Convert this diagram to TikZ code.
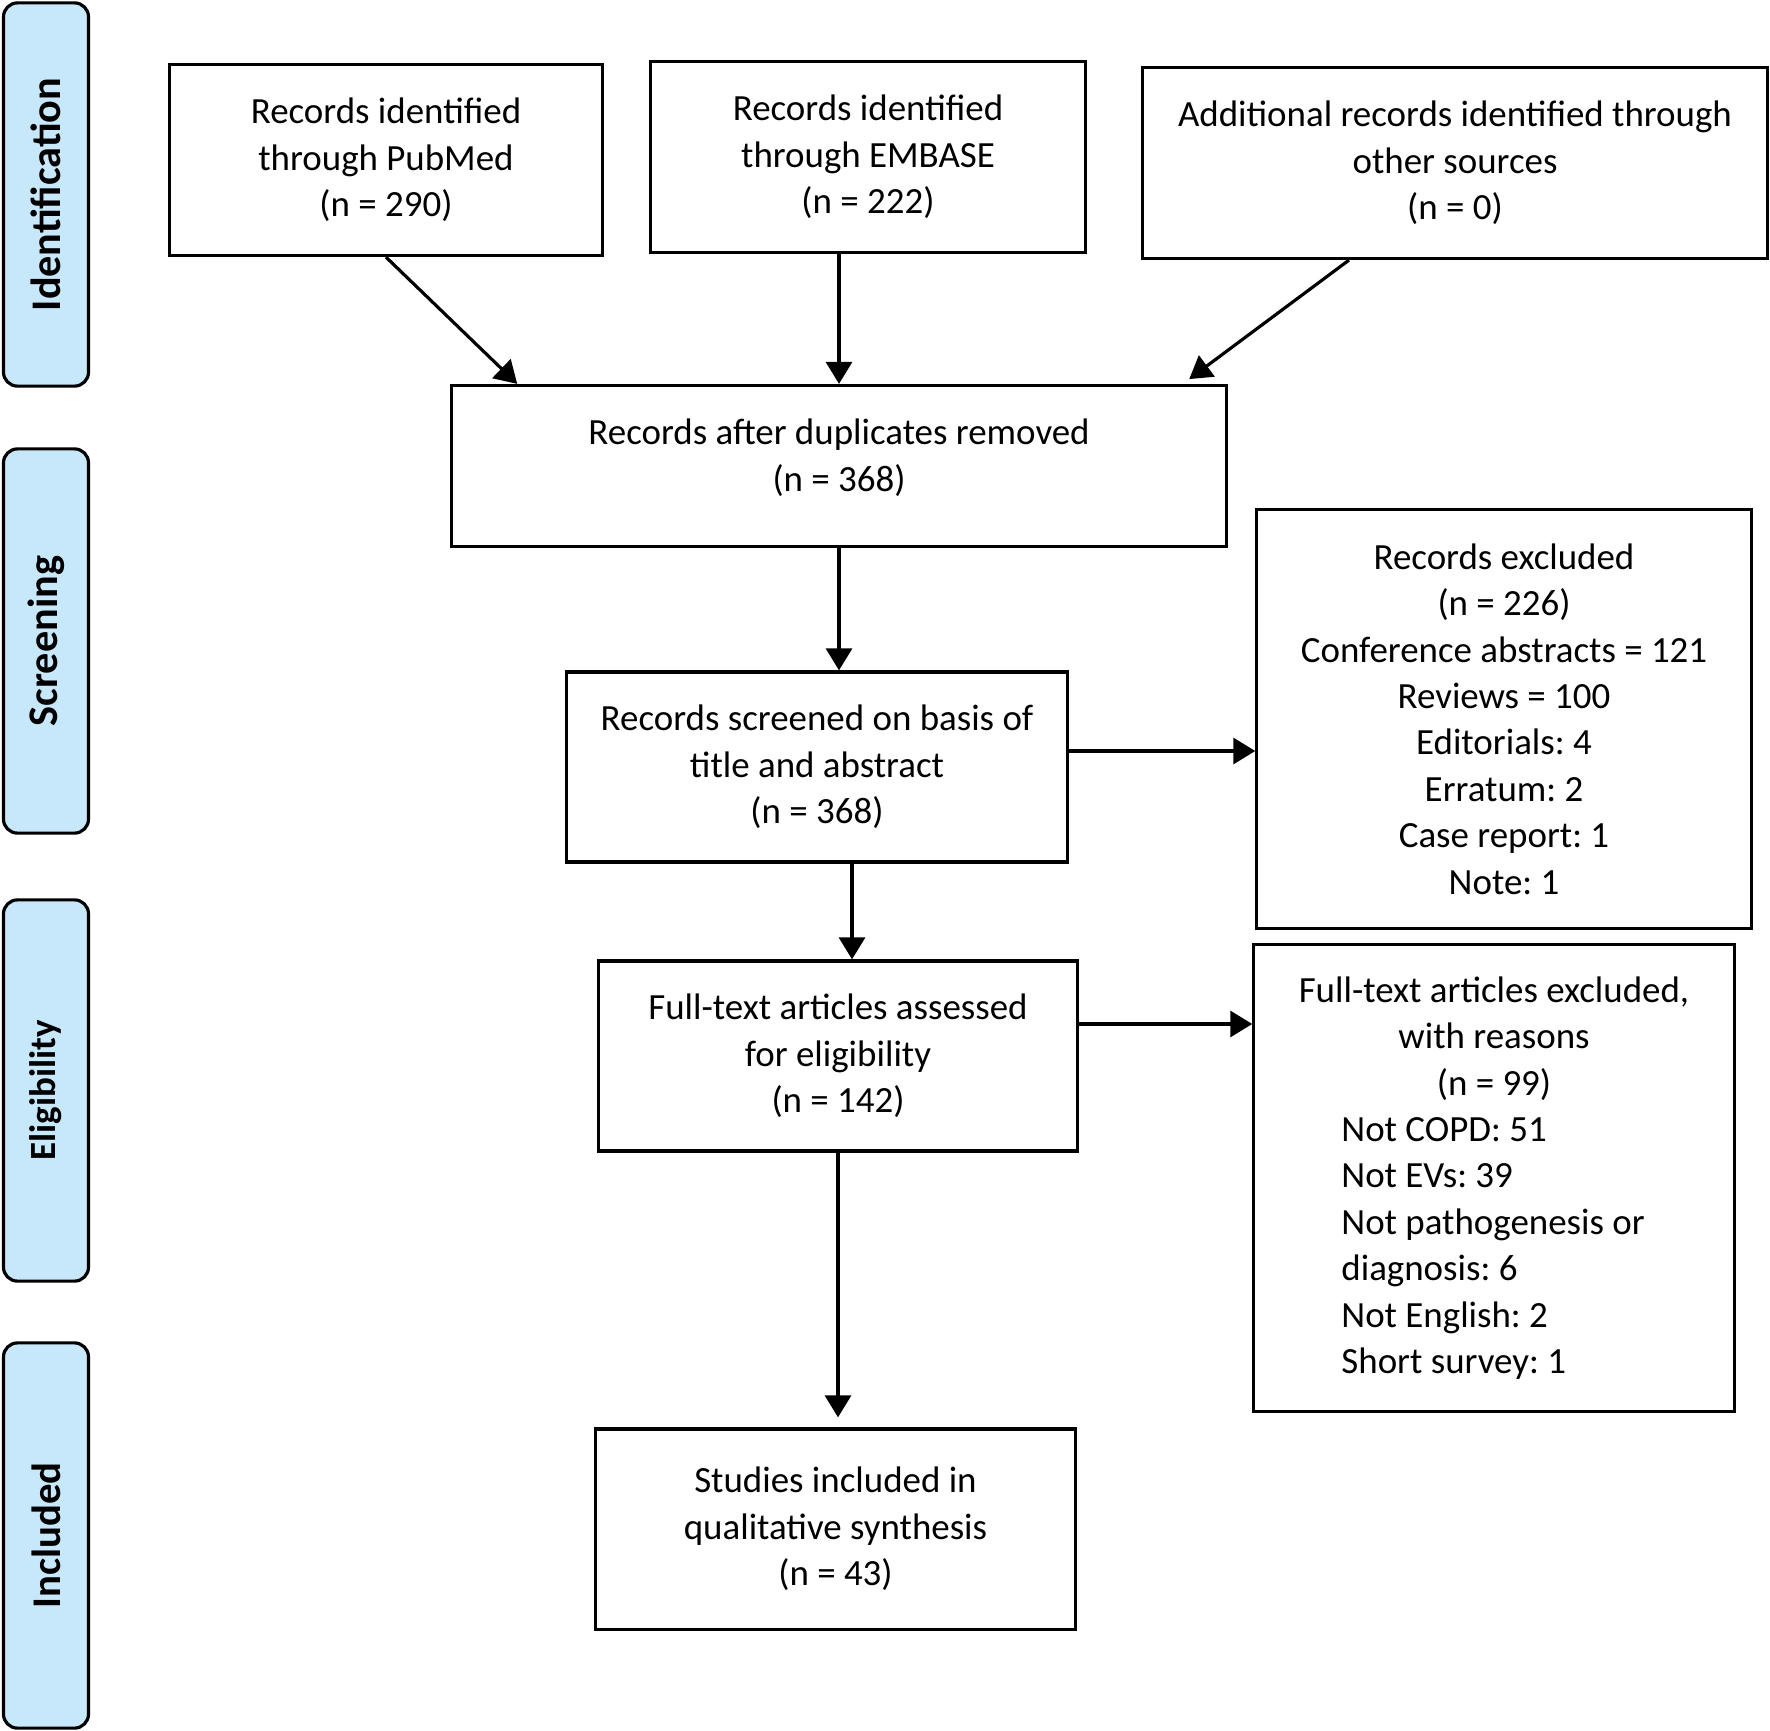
\documentclass[tikz,border=0pt]{standalone}
\usepackage{fontspec}
\setmainfont{Carlito}
\usetikzlibrary{arrows.meta}
\definecolor{phaseblue}{RGB}{199,231,251}
\newcommand{\reasonline}[1]{\makebox[3.05cm][l]{#1}}
\frenchspacing
\begin{document}
\begin{tikzpicture}
[x=0.01cm,y=-0.01cm,
  phasedecorate/.style={shape=rectangle,rounded corners=0.14cm,draw,line width=0.9pt,%
    fill=phaseblue,rotate=90,minimum height=0.85cm,inner sep=0pt},%
  boxdecorate/.style={shape=rectangle,draw,line width=0.9pt,align=center,inner sep=0pt,%
    font=\fontsize{10.5}{13.2}\selectfont},%
  linedecorate/.style={-{Triangle[length=0.22cm,width=0.26cm]},line width=0.9pt}]
\useasboundingbox (0,0) rectangle (1770,1730);
%% phase labels
\foreach \nodename/\y/\len/\phasesize/\phasetext in {
  ident/194.5/3.83cm/12/Identification, screen/641/3.84cm/12/Screening,
  elig/1090.5/3.81cm/10.5/Eligibility, incl/1535.5/3.85cm/11.6/Included}
{
  \node (\nodename) at (46,\y) [phasedecorate,minimum width=\len,
    font=\bfseries\fontsize{\phasesize}{14}\selectfont] {\phasetext};
}
%% boxes
\node (pubmed) at (386,160) [boxdecorate,minimum width=4.33cm,minimum height=1.91cm]
  {Records identified\\through PubMed\\(n = 290)};
\node (embase) at (868,157) [boxdecorate,minimum width=4.34cm,minimum height=1.91cm]
  {Records identified\\through EMBASE\\(n = 222)};
\node (other) at (1455,163) [boxdecorate,minimum width=6.24cm,minimum height=1.91cm]
  {Additional records identified through\\other sources\\(n = 0)};
\node (dup) at (839,466) [boxdecorate,minimum width=7.74cm,minimum height=1.61cm,text depth=0.22cm]
  {Records after duplicates removed\\(n = 368)};
\node (screened) at (817,767) [boxdecorate,minimum width=5.01cm,minimum height=1.90cm]
  {Records screened on basis of\\title and abstract\\(n = 368)};
\node (recex) at (1504,719) [boxdecorate,minimum width=4.94cm,minimum height=4.18cm]
  {Records excluded\\(n = 226)\\Conference abstracts = 121\\Reviews = 100\\Editorials: 4\\%
   Erratum: 2\\Case report: 1\\Note: 1};
\node (full) at (838,1056) [boxdecorate,minimum width=4.79cm,minimum height=1.90cm]
  {Full-text articles assessed\\for eligibility\\(n = 142)};
\node (fullex) at (1494,1178) [boxdecorate,minimum width=4.80cm,minimum height=4.67cm]
  {Full-text articles excluded,\\with reasons\\(n = 99)\\\reasonline{Not COPD: 51}\\%
   \reasonline{Not EVs: 39}\\\reasonline{Not pathogenesis or}\\\reasonline{diagnosis: 6}\\%
   \reasonline{Not English: 2}\\\reasonline{Short survey: 1}};
\node (studies) at (835.5,1529) [boxdecorate,minimum width=4.79cm,minimum height=2.00cm]
  {Studies included in\\qualitative synthesis\\(n = 43)};
%% arrows
\draw [linedecorate] (pubmed.south) -- ([xshift=0.67cm]dup.north west);
\draw [linedecorate] (embase.south -| dup.north) -- (dup.north);
\draw [linedecorate,shorten >=0.08cm] ([xshift=-1.06cm]other.south) -- ([xshift=-0.45cm]dup.north east);
\draw [linedecorate] (dup.south) -- (dup.south |- screened.north);
\draw [linedecorate] ([yshift=0.16cm]screened.east) -- ([yshift=0.16cm]screened.east -| recex.west);
\draw [linedecorate] ([xshift=0.35cm]screened.south) -- ([xshift=0.35cm]screened.south |- full.north);
\draw [linedecorate] ([yshift=0.32cm]full.east) -- ([yshift=0.32cm]full.east -| fullex.west);
\draw [linedecorate,shorten >=0.1cm] (full.south) -- (full.south |- studies.north);
\end{tikzpicture}
\end{document}
